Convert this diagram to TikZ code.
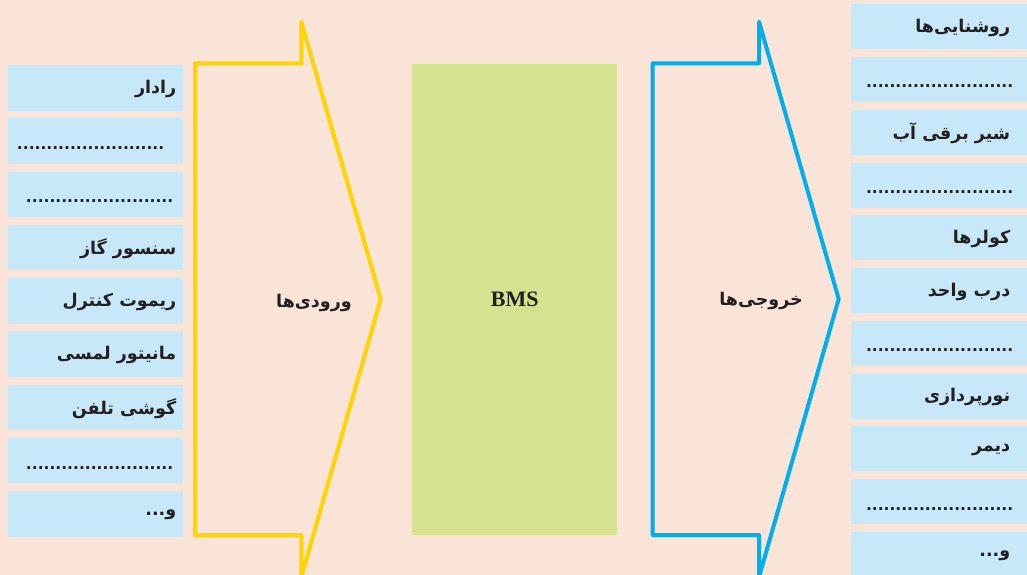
\documentclass[tikz,border=0pt]{standalone}
\usepackage{fontspec}
\setmainfont{Liberation Serif}
\newfontfamily\fa[Script=Arabic]{DejaVu Sans}
\TeXXeTstate=1
\definecolor{bgc}{HTML}{F9E4D7}
\definecolor{boxc}{HTML}{C6E8F8}
\definecolor{greenc}{HTML}{D5E28F}
\definecolor{yelc}{HTML}{FFD400}
\definecolor{bluec}{HTML}{00AEEF}
\definecolor{txtc}{HTML}{231F20}
\tikzset{
  itembox/.style={fill=boxc, draw=none, minimum width=175pt, minimum height=45.5pt, anchor=north west, inner sep=0pt},
  itemlabel/.style={anchor=east, inner sep=0pt, text=txtc, font=\fa\bfseries\fontsize{17.5}{20}\selectfont},
  dotlabel/.style={anchor=east, inner sep=0pt, text=txtc, font=\fa\bfseries\fontsize{15.5}{18}\selectfont},
  arrowline/.style={line width=4pt, line join=round, line cap=round},
}
\newcommand{\fatext}[1]{\beginR #1\endR}
\begin{document}
\begin{tikzpicture}[x=1pt,y=-1pt]
\useasboundingbox (0,0) rectangle (1027,575);
\fill[bgc] (0,0) rectangle (1027,575);
% left column
\foreach \i in {0,...,8}{
  \node[itembox] (L\i) at (8,{65+53.25*\i}) {};
}
\node[itemlabel] (Lt0) at ([xshift=-7pt,yshift=-1pt]L0.east) {\fatext{رادار}};
\node[dotlabel] (Lt1) at ([xshift=-19pt,yshift=-7pt]L1.east) {.........................};
\node[dotlabel] (Lt2) at ([xshift=-10pt,yshift=-7pt]L2.east) {.........................};
\node[itemlabel] (Lt3) at ([xshift=-7pt,yshift=-1pt]L3.east) {\fatext{سنسور گاز}};
\node[itemlabel] (Lt4) at ([xshift=-7pt,yshift=-1pt]L4.east) {\fatext{ریموت کنترل}};
\node[itemlabel] (Lt5) at ([xshift=-7pt,yshift=-1pt]L5.east) {\fatext{مانیتور لمسی}};
\node[itemlabel] (Lt6) at ([xshift=-7pt,yshift=-1pt]L6.east) {\fatext{گوشی تلفن}};
\node[dotlabel] (Lt7) at ([xshift=-10pt,yshift=-7pt]L7.east) {.........................};
\node[itemlabel] (Lt8) at ([xshift=-7pt,yshift=-1pt]L8.east) {\fatext{و...}};
% right column
\foreach \j in {0,...,10}{
  \node[itembox, minimum width=176pt, minimum height=45pt] (R\j) at (851,{4+52.77*\j}) {};
}
\node[itemlabel] (Rt0) at ([xshift=-17pt,yshift=-1pt]R0.east) {\fatext{روشنایی‌ها}};
\node[dotlabel] (Rt1) at ([xshift=-14pt,yshift=-7pt]R1.east) {.........................};
\node[itemlabel] (Rt2) at ([xshift=-17pt,yshift=-1pt]R2.east) {\fatext{شیر برقی آب}};
\node[dotlabel] (Rt3) at ([xshift=-14pt,yshift=-7pt]R3.east) {.........................};
\node[itemlabel] (Rt4) at ([xshift=-17pt,yshift=-1pt]R4.east) {\fatext{کولرها}};
\node[itemlabel] (Rt5) at ([xshift=-17pt,yshift=-1pt]R5.east) {\fatext{درب واحد}};
\node[dotlabel] (Rt6) at ([xshift=-14pt,yshift=-7pt]R6.east) {.........................};
\node[itemlabel] (Rt7) at ([xshift=-17pt,yshift=-1pt]R7.east) {\fatext{نورپردازی}};
\node[itemlabel] (Rt8) at ([xshift=-17pt,yshift=-1pt]R8.east) {\fatext{دیمر}};
\node[dotlabel] (Rt9) at ([xshift=-14pt,yshift=-7pt]R9.east) {.........................};
\node[itemlabel] (Rt10) at ([xshift=-17pt,yshift=-1pt]R10.east) {\fatext{و...}};
% BMS block
\node[fill=greenc, draw=none, minimum width=205pt, minimum height=471pt, inner sep=0pt, anchor=north west,
      font=\bfseries\fontsize{22}{24}\selectfont, text=txtc] (bms) at (412,64) {BMS};
% input arrow
\draw[arrowline, yelc] (195,63.3) -- (301.3,63.3) -- (301.3,21.7) -- (380.7,299.3) -- (301.3,577) -- (301.3,535) -- (195,535) -- cycle;
\node[itemlabel] (inlbl) at (352,303) {\fatext{ورودی‌ها}};
% output arrow
\draw[arrowline, bluec] (652.7,63.3) -- (759,63.3) -- (759,21.7) -- (838.7,299) -- (759,577) -- (759,535) -- (652.7,535) -- cycle;
\node[itemlabel] (outlbl) at (803,301) {\fatext{خروجی‌ها}};
\end{tikzpicture}
\end{document}
